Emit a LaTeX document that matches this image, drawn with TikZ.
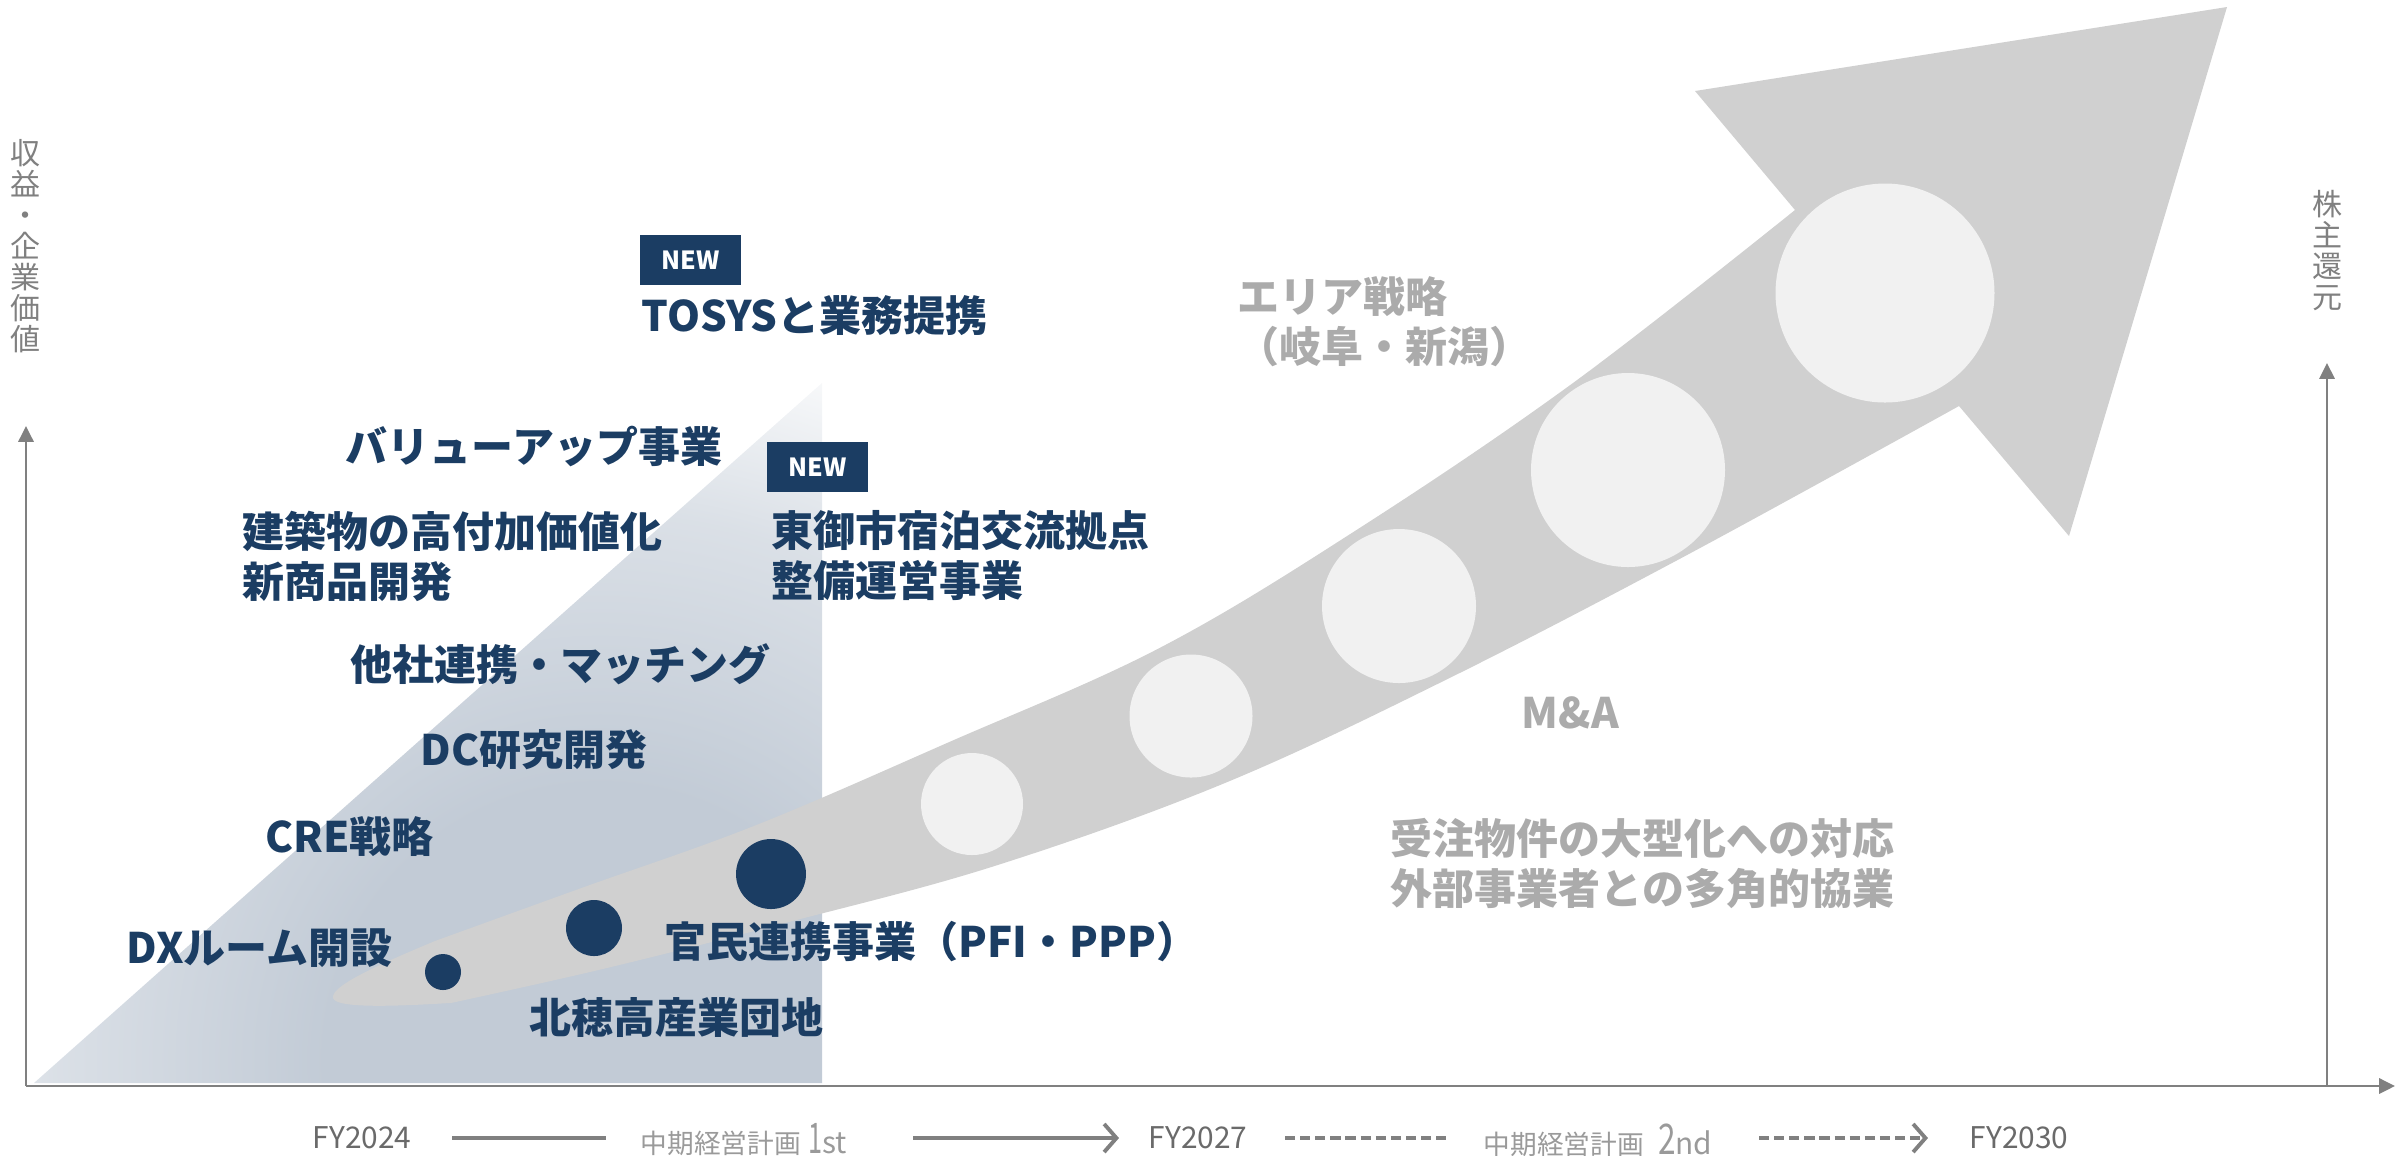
\documentclass[tikz,border=0pt]{standalone}
\usepackage{fontspec}
\usepackage{graphicx}
\setmainfont{Noto Sans CJK JP}
\usetikzlibrary{arrows.meta}
\definecolor{navy}{HTML}{1B3D63}
\definecolor{band}{HTML}{D0D0D0}
\definecolor{lite}{HTML}{F1F1F1}
\definecolor{gtxt}{HTML}{ABABAB}
\definecolor{axisc}{HTML}{808080}
\definecolor{fytxt}{HTML}{6A6A6A}
\definecolor{plantxt}{HTML}{9A9A9A}
\definecolor{tri}{HTML}{C2CBD6}
\colorlet{trimid}{tri!60!white}
\pgfdeclareradialshading{trishade}{\pgfpoint{0bp}{0bp}}{color(0bp)=(tri); color(9bp)=(tri); color(18bp)=(trimid); color(25bp)=(white); color(50bp)=(white)}
\begin{document}
\begin{tikzpicture}[x=0.1mm, y=-0.1mm,
  navylab/.style={anchor=west, inner sep=0pt, text=navy, align=left, font=\bfseries\fontsize{11.95pt}{14.23pt}\selectfont},
  greylab/.style={navylab, text=gtxt},
  axlab/.style={inner sep=0pt, text=axisc, align=center, font=\fontsize{8.54pt}{8.82pt}\selectfont},
  axisline/.style={draw=axisc, line width=0.77pt, -{Triangle[length=4.5pt,width=4.3pt]}},
  newbox/.style={fill=navy, text=white, inner sep=0pt, minimum width=10.1mm, minimum height=5mm, font=\bfseries\fontsize{7.1pt}{7.1pt}\selectfont},
  darkdot/.style={circle, fill=navy, inner sep=0pt},
  litedot/.style={circle, fill=lite, inner sep=0pt},
  fylab/.style={inner sep=0pt, text=fytxt, font=\fontsize{8.5pt}{8.5pt}\selectfont},
  planlab/.style={inner sep=0pt, text=plantxt, font=\fontsize{7.6pt}{7.6pt}\selectfont},
  tline/.style={draw=axisc, line width=1.1pt},
  tarrow/.style={tline, -{Straight Barb[length=3.5pt,width=8pt,line width=1.1pt]}},
  tdash/.style={tline, dash pattern=on 2.9pt off 1.4pt},
]
\useasboundingbox (0,0) rectangle (2405,1155);

% gradient triangle
\begin{scope}
  \clip (34,1083) -- (822,383) -- (822,1083) -- cycle;
  \shade[shading=trishade] (600,1060) circle (760);
\end{scope}

% big curved arrow
\fill[band] (333,998) .. controls (336,1009) and (400,1006) .. (451.3,1002.9)
  -- plot[smooth, tension=0.6] coordinates {(451.3,1002.9) (606,968.2) (786.9,922.5) (995.2,865.8) (1222.5,784) (1441.7,681.9) (1682.5,557.4) (1959,406)}
  -- (2069,536) -- (2227,7) -- (1695,91) -- (1795,210)
  -- plot[smooth, tension=0.6] coordinates {(1795,210) (1573.5,382.6) (1356.3,530.1) (1159.5,648) (948.8,742.2) (755.1,825.5) (582,887.8) (434.7,941.1)}
  .. controls (390,960) and (330,985) .. cycle;

% circles
\node[darkdot, minimum size=3.6mm] (c1) at (443,972) {};
\node[darkdot, minimum size=5.6mm] (c2) at (594,928) {};
\node[darkdot, minimum size=7.0mm] (c3) at (771,874) {};
\node[litedot, minimum size=10.2mm] (l1) at (972,804) {};
\node[litedot, minimum size=12.3mm] (l2) at (1191,716) {};
\node[litedot, minimum size=15.4mm] (l3) at (1399,606) {};
\node[litedot, minimum size=19.4mm] (l4) at (1628,470) {};
\node[litedot, minimum size=21.9mm] (l5) at (1885,293) {};

% navy labels
\node[newbox] (new1) at (690.5,260) {NEW};
\node[navylab] (tosys) at (641,316) {TOSYSと業務提携};
\node[navylab] (value) at (345,446) {バリューアップ事業};
\node[navylab] (build) at (242,556) {建築物の高付加価値化\\新商品開発};
\node[navylab] (match) at (350,664) {他社連携・マッチング};
\node[navylab] (dc) at (420,750) {DC研究開発};
\node[navylab] (cre) at (265,837) {CRE戦略};
\node[navylab] (dx) at (126,948) {DXルーム開設};
\node[newbox] (new2) at (817.5,467) {NEW};
\node[navylab] (tomi) at (771,556) {東御市宿泊交流拠点\\整備運営事業};
\node[navylab] (pfi) at (664,942) {官民連携事業（PFI・PPP）};
\node[navylab] (hota) at (529,1017) {北穂高産業団地};

% grey labels
\node[greylab] (area) at (1237,322) {エリア戦略\\（岐阜・新潟）};
\node[greylab] (ma) at (1521,713) {M\&A};
\node[greylab] (order) at (1390,863) {受注物件の大型化への対応\\外部事業者との多角的協業};

% axes
\coordinate (o) at (26,1086);
\coordinate (ytop) at (26,426);
\coordinate (xend) at (2395,1086);
\coordinate (rbase) at (2327,1086);
\coordinate (rtop) at (2327,363);
\draw[axisline] (o) -- (ytop);
\draw[axisline] (o) -- (xend);
\draw[axisline] (rbase) -- (rtop);
\node[axlab] (ylab) at (26,246) {収\\益\\・\\企\\業\\価\\値};
\node[axlab] (rlab) at (2327,251) {株\\主\\還\\元};

% timeline
\node[fylab] (fy24) at (362,1138) {FY2024};
\node[planlab, anchor=west] (plan1) at (640,1140) {中期経営計画\hspace{2pt}{\fontsize{12pt}{12pt}\selectfont\scalebox{0.6}[1]{1}}{\fontsize{8.5pt}{8.5pt}\selectfont st}};
\node[fylab] (fy27) at (1198,1138) {FY2027};
\node[planlab, anchor=west] (plan2) at (1483,1140) {中期経営計画\hspace{4pt}{\fontsize{12pt}{12pt}\selectfont\scalebox{0.75}[1]{2}}{\fontsize{8.5pt}{8.5pt}\selectfont nd}};
\node[fylab] (fy30) at (2019,1138) {FY2030};
\coordinate (s1a) at (452,1138);
\coordinate (s1b) at (606,1138);
\coordinate (s2a) at (913,1138);
\coordinate (s2b) at (1119,1138);
\coordinate (s3a) at (1285,1138);
\coordinate (s3b) at (1449,1138);
\coordinate (s4a) at (1759,1138);
\coordinate (s4b) at (1928,1138);
\draw[tline] (s1a) -- (s1b);
\draw[tarrow] (s2a) -- (s2b);
\draw[tdash] (s3a) -- (s3b);
\draw[tarrow, dash pattern=on 2.9pt off 1.4pt] (s4a) -- (s4b);
\end{tikzpicture}
\end{document}
